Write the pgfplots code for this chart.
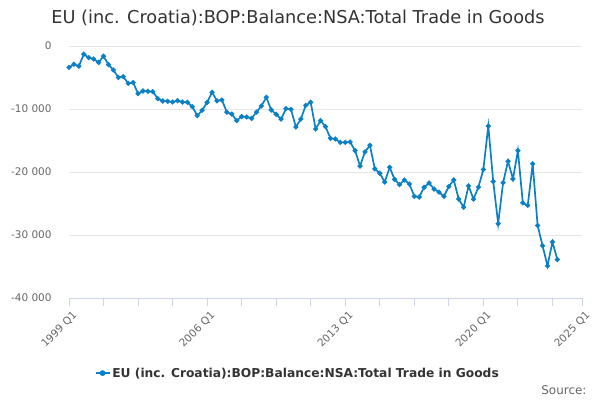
\documentclass[border=0pt]{standalone}
\usepackage{pgfplots}
\pgfplotsset{compat=1.18}
\usepackage{fontspec}
\setmainfont{DejaVu Sans}
\definecolor{series}{RGB}{12,128,196}
\definecolor{axisline}{RGB}{204,214,235}
\definecolor{gridc}{RGB}{230,230,230}
\definecolor{labc}{RGB}{102,102,102}
\definecolor{titc}{RGB}{51,51,51}
\begin{document}
\begin{tikzpicture}[x=1bp,y=1bp]
\path[use as bounding box] (0,0) rectangle (600,400);
\begin{axis}[
  at={(69bp,102bp)}, anchor=south west,
  width=513bp, height=252bp, scale only axis,
  xmin=0, xmax=104, ymin=-40000, ymax=0,
  scaled y ticks=false,
  axis lines=left,
  x axis line style={axisline, line width=0.8pt, -},
  y axis line style={draw=none},
  ytick={-40000,-30000,-20000,-10000,0},
  yticklabels={-40 000,-30 000,-20 000,-10 000,0},
  ymajorgrids, grid style={gridc, line width=0.8pt},
  yticklabel style={font=\fontsize{10.5}{12}\selectfont, text=labc, anchor=east, xshift=-6bp},
  ytick style={draw=none},
  xtick={0,28,56,84,104},
  xticklabels={1999 Q1,2006 Q1,2013 Q1,2020 Q1,2025 Q1},
  minor xtick={7,14,21,35,42,49,63,70,77,91,98},
  xticklabel style={font=\fontsize{10.5}{12}\selectfont, text=labc, rotate=45, anchor=north east, inner sep=1bp, yshift=-4bp},
  tick align=outside,
  major tick length=8bp, minor tick length=8bp,
  xtick style={axisline, line width=0.8pt},
  every minor tick/.append style={axisline, line width=0.8pt},
  xmajorgrids=false,
  clip=false,
  legend style={at={(0.446,-0.298)}, anchor=center, draw=none, fill=none,
    font=\bfseries\fontsize{12.3}{14}\selectfont, text=titc},
  legend image code/.code={
    \draw[series, line width=1.5pt] (0bp,0bp) -- (14bp,0bp);
    \fill[series] (7bp,0bp) circle (2bp);
  },
]
\addplot[series, line width=1.7pt, mark=*, mark size=1.6pt, mark options={series}] table {
x y
0 -3400
1 -2900
2 -3200
3 -1300
4 -1850
5 -2060
6 -2600
7 -1600
8 -2960
9 -3800
10 -5000
11 -4870
12 -5930
13 -5800
14 -7560
15 -7140
16 -7200
17 -7250
18 -8360
19 -8730
20 -8780
21 -8890
22 -8680
23 -8890
24 -8940
25 -9630
26 -11060
27 -10200
28 -8950
29 -7350
30 -8700
31 -8570
32 -10500
33 -10800
34 -11850
35 -11200
36 -11270
37 -11500
38 -10500
39 -9520
40 -8150
41 -10160
42 -10850
43 -11600
44 -9940
45 -10050
46 -12860
47 -11600
48 -9420
49 -8940
50 -13170
51 -11850
52 -12800
53 -14650
54 -14760
55 -15300
56 -15300
57 -15240
58 -16600
59 -19050
60 -16800
61 -15770
62 -19500
63 -20200
64 -21600
65 -19260
66 -21160
67 -22000
68 -21270
69 -21900
70 -23860
71 -23970
72 -22430
73 -21750
74 -22700
75 -23200
76 -23860
77 -22300
78 -21270
79 -24300
80 -25600
81 -22200
82 -24300
83 -22400
84 -19600
85 -12700
86 -21500
87 -28200
88 -21700
89 -18300
90 -21100
91 -16600
92 -24900
93 -25300
94 -18700
95 -28500
96 -31700
97 -34900
98 -31100
99 -33900
};
\addlegendentry{EU (inc. Croatia):BOP:Balance:NSA:Total Trade in Goods}
\end{axis}
\node[text=titc, font=\fontsize{17.8}{20}\selectfont] at (298,382) {EU (inc. Croatia):BOP:Balance:NSA:Total Trade in Goods};
\node[text=labc, font=\fontsize{12}{14}\selectfont, anchor=east] at (590,10) {Source:};
\end{tikzpicture}
\end{document}
